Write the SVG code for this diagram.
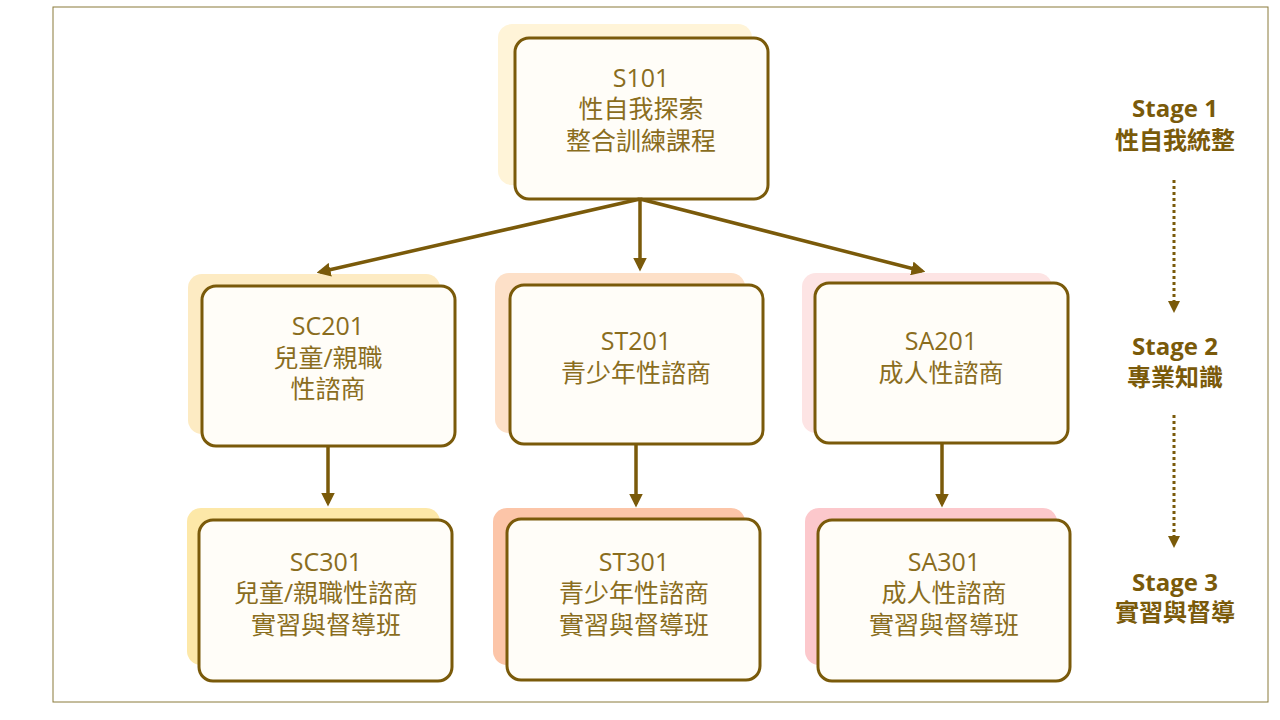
<svg xmlns="http://www.w3.org/2000/svg" width="1280" height="720" viewBox="0 0 1280 720">
<style>
.box{fill:#fffdf8;stroke:#7a5a0a;stroke-width:3}
.t{font-family:"Open Sans","Noto Sans CJK TC",sans-serif;font-size:25px;fill:#8a6d1e;text-anchor:middle}
.st{font-family:"Open Sans","Noto Sans CJK TC",sans-serif;font-size:24px;font-weight:bold;fill:#7a5a0a;text-anchor:middle}
.c{stroke:#7a5a0a;stroke-width:3.5;fill:none;marker-end:url(#a)}
.d{stroke:#7a5a0a;stroke-width:3;stroke-dasharray:3 3;fill:none;marker-end:url(#a2)}
</style>
<defs>
<marker id="a" markerWidth="4" markerHeight="4" refX="3" refY="2" orient="auto"><path d="M0,0L4,2L0,4z" fill="#7a5a0a"/></marker>
<marker id="a2" markerWidth="4" markerHeight="4" refX="3" refY="2" orient="auto"><path d="M0,0L4,2L0,4z" fill="#7a5a0a"/></marker>
</defs>
<rect width="1280" height="720" fill="#fff"/>
<rect x="53" y="7" width="1215" height="695" fill="none" stroke="#8a7a3a" stroke-width="1"/>
<g id="S101"><rect x="498" y="24" width="254" height="161" rx="14" fill="#fff4d8"/><rect class="box" x="515" y="38" width="253" height="161" rx="14"/>
<text class="t" x="641" y="87">S101</text><text class="t" x="641" y="118">性自我探索</text><text class="t" x="641" y="150">整合訓練課程</text></g>
<g id="SC201"><rect x="188" y="274" width="252" height="160" rx="14" fill="#fdebc3"/><rect class="box" x="202" y="286" width="253" height="160" rx="14"/>
<text class="t" x="328" y="335">SC201</text><text class="t" x="328" y="367">兒童/親職</text><text class="t" x="328" y="398">性諮商</text></g>
<g id="ST201"><rect x="495" y="273" width="250" height="160" rx="14" fill="#fde0c8"/><rect class="box" x="510" y="285" width="253" height="159" rx="14"/>
<text class="t" x="636" y="350">ST201</text><text class="t" x="636" y="382">青少年性諮商</text></g>
<g id="SA201"><rect x="802" y="273" width="250" height="160" rx="14" fill="#fde4e4"/><rect class="box" x="815" y="283" width="253" height="160" rx="14"/>
<text class="t" x="941" y="350">SA201</text><text class="t" x="941" y="382">成人性諮商</text></g>
<g id="SC301"><rect x="187" y="508" width="253" height="157" rx="14" fill="#fde8a8"/><rect class="box" x="199" y="520" width="253" height="161" rx="14"/>
<text class="t" x="326" y="571">SC301</text><text class="t" x="326" y="602">兒童/親職性諮商</text><text class="t" x="326" y="634">實習與督導班</text></g>
<g id="ST301"><rect x="493" y="508" width="252" height="157" rx="14" fill="#fcc5a8"/><rect class="box" x="507" y="519" width="253" height="161" rx="14" fill="#fffaf6"/>
<text class="t" x="634" y="571">ST301</text><text class="t" x="634" y="602">青少年性諮商</text><text class="t" x="634" y="634">實習與督導班</text></g>
<g id="SA301"><rect x="805" y="508" width="252" height="157" rx="14" fill="#fcc8cc"/><rect class="box" x="818" y="520" width="252" height="161" rx="14" fill="#fffafa"/>
<text class="t" x="944" y="571">SA301</text><text class="t" x="944" y="602">成人性諮商</text><text class="t" x="944" y="634">實習與督導班</text></g>
<g id="connectors">
<path class="c" d="M640,199L320,272"/>
<path class="c" d="M640,199L640,268"/>
<path class="c" d="M640,199L922,271"/>
<path class="c" d="M328,446L328,503"/>
<path class="c" d="M636,444L636,504"/>
<path class="c" d="M942,443L942,504"/>
<path class="d" d="M1174,180L1174,310"/>
<path class="d" d="M1174,415L1174,545"/>
</g>
<g id="stages">
<text class="st" x="1175" y="117">Stage 1</text><text class="st" x="1175" y="149">性自我統整</text>
<text class="st" x="1175" y="355">Stage 2</text><text class="st" x="1175" y="386">專業知識</text>
<text class="st" x="1175" y="591">Stage 3</text><text class="st" x="1175" y="621">實習與督導</text>
</g>
</svg>
